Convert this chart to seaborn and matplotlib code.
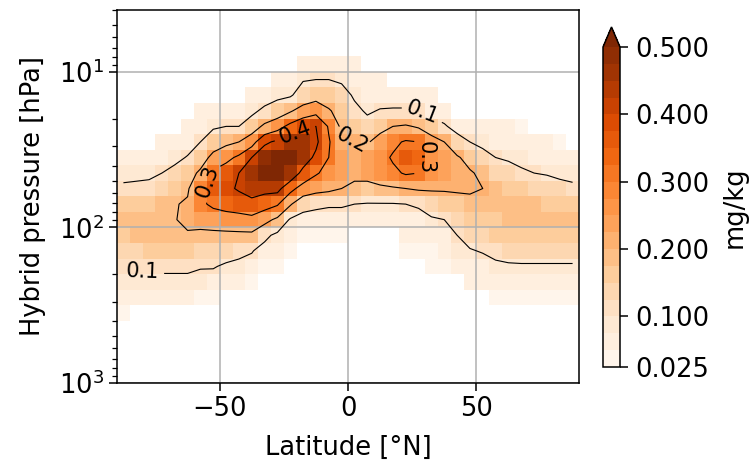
import numpy as np
import matplotlib
matplotlib.use("Agg")
import matplotlib.pyplot as plt
import seaborn as sns
from matplotlib.colors import BoundaryNorm

# ---------------- data ----------------
# latitude cell centres (deg N), 5 degree grid
lat_centers = [-87.5, -82.5, -77.5, -72.5, -67.5, -62.5, -57.5, -52.5, -47.5,
               -42.5, -37.5, -32.5, -27.5, -22.5, -17.5, -12.5, -7.5, -2.5,
               2.5, 7.5, 12.5, 17.5, 22.5, 27.5, 32.5, 37.5, 42.5, 47.5,
               52.5, 57.5, 62.5, 67.5, 72.5, 77.5, 82.5, 87.5]
# hybrid pressure level centres (hPa), top to bottom
pressure_hpa = [8.9, 11.2, 14.1, 17.8, 22.4, 28.2, 35.5, 44.7, 56.2, 70.8,
                89.1, 112.2, 141.3, 177.8, 223.9, 281.8, 354.8]
# mixing ratio (mg/kg): one vertical profile per latitude (top -> bottom)
mmr_by_lat = [
    [0, 0, 0, 0, 0, 0, 0.06, 0.085, 0.11, 0.15, 0.18, 0.17, 0.14, 0.11, 0.08, 0.06, 0.04],
    [0, 0, 0, 0, 0, 0, 0.06, 0.09, 0.11, 0.155, 0.185, 0.175, 0.145, 0.11, 0.08, 0.055, 0],
    [0, 0, 0, 0, 0, 0, 0.06, 0.09, 0.115, 0.16, 0.19, 0.18, 0.15, 0.11, 0.08, 0.05, 0],
    [0, 0, 0, 0, 0, 0.05, 0.07, 0.10, 0.135, 0.175, 0.195, 0.19, 0.16, 0.115, 0.08, 0.05, 0],
    [0, 0, 0, 0, 0, 0.06, 0.08, 0.125, 0.165, 0.195, 0.198, 0.19, 0.16, 0.115, 0.08, 0.05, 0],
    [0, 0, 0, 0, 0.05, 0.07, 0.105, 0.155, 0.19, 0.21, 0.21, 0.195, 0.16, 0.115, 0.08, 0.05, 0],
    [0, 0, 0, 0.05, 0.07, 0.10, 0.15, 0.22, 0.28, 0.28, 0.23, 0.18, 0.14, 0.105, 0.075, 0.045, 0],
    [0, 0, 0, 0.06, 0.09, 0.15, 0.23, 0.32, 0.35, 0.32, 0.24, 0.18, 0.14, 0.105, 0.07, 0.045, 0],
    [0, 0, 0, 0.06, 0.10, 0.18, 0.27, 0.36, 0.38, 0.34, 0.25, 0.18, 0.13, 0.09, 0.05, 0, 0],
    [0, 0, 0, 0.06, 0.10, 0.20, 0.32, 0.40, 0.41, 0.35, 0.26, 0.18, 0.12, 0.08, 0.05, 0, 0],
    [0, 0, 0.05, 0.08, 0.15, 0.26, 0.40, 0.46, 0.44, 0.37, 0.27, 0.18, 0.105, 0.07, 0.045, 0, 0],
    [0, 0, 0.06, 0.12, 0.22, 0.38, 0.48, 0.50, 0.43, 0.34, 0.23, 0.12, 0.07, 0.045, 0, 0, 0],
    [0, 0.05, 0.08, 0.15, 0.26, 0.42, 0.52, 0.52, 0.43, 0.31, 0.18, 0.08, 0.05, 0.04, 0, 0, 0],
    [0, 0.06, 0.09, 0.19, 0.33, 0.47, 0.51, 0.47, 0.33, 0.21, 0.09, 0.05, 0.04, 0, 0, 0, 0],
    [0.05, 0.095, 0.14, 0.24, 0.38, 0.46, 0.45, 0.37, 0.26, 0.13, 0.07, 0.04, 0, 0, 0, 0, 0],
    [0.06, 0.10, 0.16, 0.27, 0.40, 0.42, 0.38, 0.31, 0.23, 0.12, 0.06, 0.04, 0, 0, 0, 0, 0],
    [0.06, 0.10, 0.15, 0.21, 0.29, 0.31, 0.30, 0.27, 0.22, 0.11, 0.06, 0.04, 0, 0, 0, 0, 0],
    [0.06, 0.09, 0.13, 0.16, 0.18, 0.21, 0.23, 0.23, 0.20, 0.11, 0.06, 0.04, 0, 0, 0, 0, 0],
    [0.05, 0.07, 0.09, 0.12, 0.16, 0.20, 0.22, 0.22, 0.18, 0.10, 0.05, 0, 0, 0, 0, 0, 0],
    [0, 0.05, 0.07, 0.09, 0.13, 0.19, 0.23, 0.23, 0.17, 0.095, 0.05, 0, 0, 0, 0, 0, 0],
    [0, 0.05, 0.07, 0.105, 0.17, 0.24, 0.27, 0.26, 0.18, 0.095, 0.05, 0, 0, 0, 0, 0, 0],
    [0, 0, 0.06, 0.11, 0.20, 0.28, 0.31, 0.28, 0.19, 0.095, 0.05, 0, 0, 0, 0, 0, 0],
    [0, 0, 0.06, 0.11, 0.21, 0.31, 0.35, 0.31, 0.20, 0.10, 0.06, 0.05, 0.04, 0, 0, 0, 0],
    [0, 0, 0.05, 0.10, 0.19, 0.30, 0.34, 0.30, 0.21, 0.11, 0.07, 0.05, 0.04, 0, 0, 0, 0],
    [0, 0, 0.05, 0.07, 0.15, 0.24, 0.27, 0.26, 0.21, 0.14, 0.09, 0.06, 0.045, 0.04, 0, 0, 0],
    [0, 0, 0, 0.06, 0.11, 0.20, 0.24, 0.24, 0.21, 0.15, 0.10, 0.07, 0.05, 0.04, 0, 0, 0],
    [0, 0, 0, 0, 0.07, 0.14, 0.21, 0.22, 0.21, 0.17, 0.13, 0.10, 0.08, 0.05, 0, 0, 0],
    [0, 0, 0, 0, 0.06, 0.10, 0.17, 0.21, 0.21, 0.18, 0.15, 0.125, 0.095, 0.07, 0.05, 0, 0],
    [0, 0, 0, 0, 0.05, 0.08, 0.13, 0.18, 0.20, 0.18, 0.16, 0.14, 0.105, 0.07, 0.05, 0, 0],
    [0, 0, 0, 0, 0.05, 0.07, 0.10, 0.145, 0.175, 0.18, 0.17, 0.15, 0.12, 0.085, 0.06, 0.04, 0],
    [0, 0, 0, 0, 0.05, 0.06, 0.09, 0.135, 0.165, 0.18, 0.18, 0.16, 0.13, 0.09, 0.06, 0.04, 0],
    [0, 0, 0, 0, 0.04, 0.05, 0.075, 0.115, 0.155, 0.18, 0.18, 0.17, 0.14, 0.09, 0.06, 0.04, 0],
    [0, 0, 0, 0, 0, 0.05, 0.07, 0.10, 0.145, 0.175, 0.18, 0.17, 0.14, 0.09, 0.06, 0.04, 0],
    [0, 0, 0, 0, 0, 0.05, 0.065, 0.095, 0.135, 0.17, 0.18, 0.17, 0.14, 0.09, 0.06, 0.04, 0],
    [0, 0, 0, 0, 0, 0.04, 0.06, 0.085, 0.125, 0.17, 0.18, 0.17, 0.14, 0.09, 0.06, 0.04, 0],
    [0, 0, 0, 0, 0, 0, 0.06, 0.08, 0.115, 0.16, 0.18, 0.17, 0.14, 0.09, 0.06, 0.04, 0],
]
contour_levels = [0.1, 0.2, 0.3, 0.4]
cbar_ticks = [0.025, 0.1, 0.2, 0.3, 0.4, 0.5]

# ---------------- style ----------------
sns.set_style("ticks")
plt.rcParams['font.family'] = ['DejaVu Sans']
plt.rcParams.update({
    'font.size': 18.5,
    'axes.edgecolor': 'black',
    'axes.linewidth': 1.1,
    'xtick.color': 'black', 'ytick.color': 'black',
    'xtick.major.size': 6, 'ytick.major.size': 6,
    'ytick.minor.size': 3.5,
    'xtick.major.width': 1.1, 'ytick.major.width': 1.1,
    'ytick.minor.width': 0.9,
    'text.color': 'black', 'axes.labelcolor': 'black',
})

lat = np.array(lat_centers)
p = np.array(pressure_hpa)
field = np.array(mmr_by_lat).T  # (levels, lats)

lat_edges = np.concatenate([[-90.0], (lat[:-1] + lat[1:]) / 2, [90.0]])
mid = np.sqrt(p[:-1] * p[1:])
p_edges = np.concatenate([[p[0] ** 2 / mid[0]], mid, [p[-1] ** 2 / mid[-1]]])

cmap = sns.color_palette("Oranges", as_cmap=True)
bounds = np.linspace(0.025, 0.5, 20)
norm = BoundaryNorm(bounds, cmap.N, extend='max')

fig = plt.figure(figsize=(7.52, 4.66), dpi=100)
ax = fig.add_axes([117 / 752, 1 - 383 / 466, (579 - 117) / 752, (383 - 10) / 466])
cax = fig.add_axes([603 / 752, 1 - 367 / 466, 17 / 752, 340 / 466])

masked = np.ma.masked_less(field, 0.025)
mesh = ax.pcolormesh(lat_edges, p_edges, masked, cmap=cmap, norm=norm, zorder=1)
cs = ax.contour(lat, p, field, levels=contour_levels, colors='black',
                linewidths=0.8, zorder=3)

ax.set_yscale('log')
ax.set_ylim(1000, 4)
ax.set_xlim(-90, 90)
ax.set_xticks([-50, 0, 50])

label_spots = [(-80, 187), (30, 17), (1, 29), (-56, 50), (-20, 27), (33, 36)]
ax.clabel(cs, fmt='%.1f', fontsize=15, inline=True, manual=label_spots)

ax.grid(True, which='major', color='#b0b0b0', linewidth=1.1, zorder=2)
ax.set_axisbelow(False)
ax.set_xlabel('Latitude [°N]', labelpad=9)
ax.set_ylabel('Hybrid pressure [hPa]', labelpad=9)
for s in ax.spines.values():
    s.set_visible(True)
    s.set_zorder(5)

cb = fig.colorbar(mesh, cax=cax, extend='max', extendfrac=0.0625,
                  ticks=cbar_ticks, format='%.3f')
cb.ax.minorticks_off()
cb.set_label('mg/kg', labelpad=9)
cb.outline.set_linewidth(1.1)
cb.ax.tick_params(length=6, width=1.1, pad=5)

fig.savefig('out.png', dpi=100)
